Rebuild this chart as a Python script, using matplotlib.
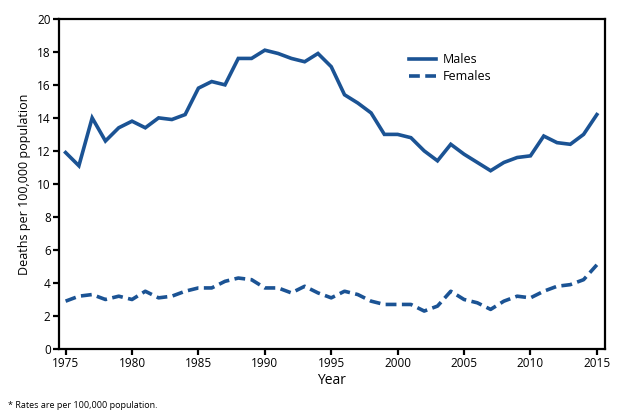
import numpy as np
from matplotlib import pyplot as plt

years = list(range(1975, 2016))
males = [11.9, 11.1, 14.0, 12.6, 13.4, 13.8, 13.4, 14.0, 13.9, 14.2,
         15.8, 16.2, 16.0, 17.6, 17.6, 18.1, 17.9, 17.6, 17.4, 17.9,
         17.1, 15.4, 14.9, 14.3, 13.0, 13.0, 12.8, 12.0, 11.4, 12.4,
         11.8, 11.3, 10.8, 11.3, 11.6, 11.7, 12.9, 12.5, 12.4, 13.0, 14.2]
females = [2.9, 3.2, 3.3, 3.0, 3.2, 3.0, 3.5, 3.1, 3.2, 3.5,
           3.7, 3.7, 4.1, 4.3, 4.2, 3.7, 3.7, 3.4, 3.8, 3.4,
           3.1, 3.5, 3.3, 2.9, 2.7, 2.7, 2.7, 2.3, 2.6, 3.5,
           3.0, 2.8, 2.4, 2.9, 3.2, 3.1, 3.5, 3.8, 3.9, 4.2, 5.1]

plt.rcParams['font.family'] = ['Open Sans', 'DejaVu Sans']
blue = '#1b5394'

fig = plt.figure(figsize=(6.34, 4.18), dpi=100)
ax = fig.add_axes([0.093, 0.165, 0.861, 0.79])
ax.plot(years, males, color=blue, lw=2.6, solid_joinstyle='miter', label='Males')
ax.plot(years, females, color=blue, lw=2.6, dashes=(3.0, 1.5), label='Females')

ax.set_xlim(1974.5, 2015.6)
ax.set_ylim(0, 20)
ax.set_xticks(range(1975, 2016, 5))
ax.set_yticks(range(0, 21, 2))
for s in ax.spines.values():
    s.set_linewidth(1.6)
ax.tick_params(direction='out', length=4, width=1.6, labelsize=8.5, pad=2)
ax.set_xlabel('Year', fontsize=10, labelpad=2)
ax.set_ylabel('Deaths per 100,000 population', fontsize=9, labelpad=4)

ax.legend(loc='upper left', bbox_to_anchor=(0.62, 0.93), frameon=False,
          fontsize=9, handlelength=2.2, handletextpad=0.5, labelspacing=0.3)

fig.text(0.012, 0.025, '* Rates are per 100,000 population.', fontsize=6.5)
fig.savefig('out.png', dpi=100)
